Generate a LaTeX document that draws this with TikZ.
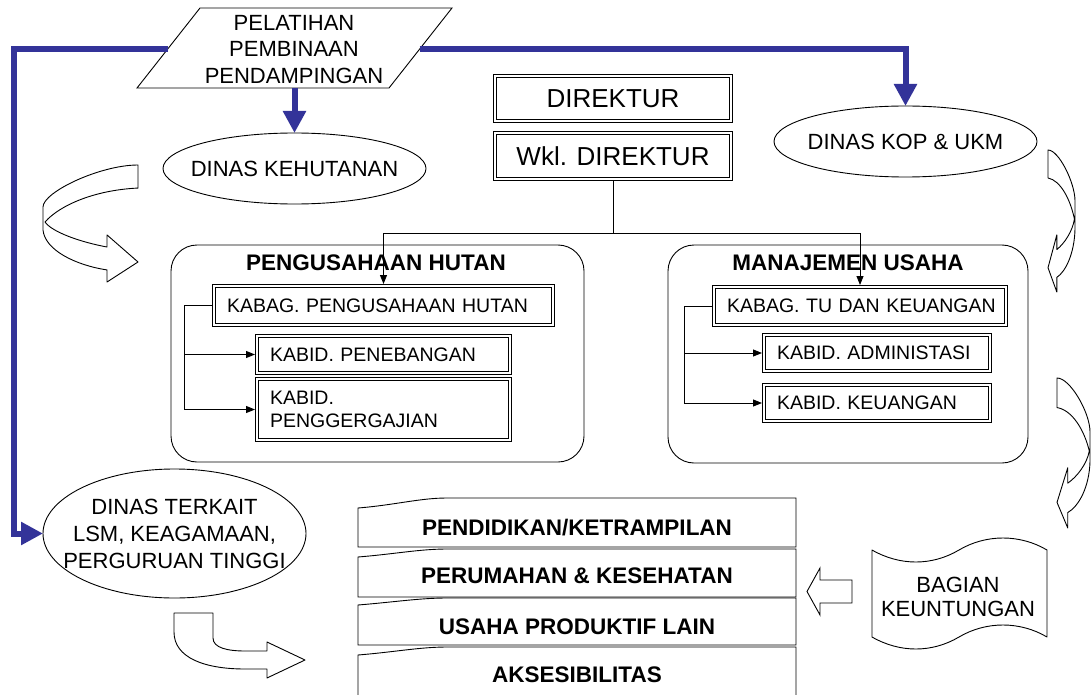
\documentclass[tikz,border=0pt]{standalone}
\usepackage{fontspec}
\setmainfont{Liberation Sans}
\usetikzlibrary{arrows.meta,shapes.geometric}

\definecolor{flowblue}{RGB}{51,51,153}

\newcommand\txtbody{\fontsize{22pt}{26.5pt}\selectfont}
\newcommand\txtoval{\fontsize{22pt}{27pt}\selectfont}
\newcommand\txtsub{\fontsize{19.5pt}{23pt}\selectfont}
\newcommand\txtdir{\fontsize{26pt}{30pt}\selectfont}
\newcommand\txthead{\fontsize{22.5pt}{27pt}\selectfont\bfseries}
\newcommand\txttape{\fontsize{22pt}{24pt}\selectfont}

% a ribbon arrow that curls round and ends in a head, in unit coordinates
\newcommand\drawcurl{%
  \draw[outline] (0,0) .. controls (0.4,0) and (1,0.231) .. (1,0.359)
    -- (1,0.556) .. controls (0.979,0.726) and (0.663,0.855) .. (0.326,0.897)
    -- (0.326,1) -- (0,0.829) -- (0.326,0.598) -- (0.326,0.701)
    .. controls (0.61,0.658) and (0.905,0.573) .. (0.979,0.487)
    .. controls (0.821,0.342) and (0.453,0.214) .. (0,0.197) -- cycle;}

\begin{document}
\begin{tikzpicture}[x=1pt,y=-1pt,
  every node/.style={inner sep=0pt,outer sep=0pt,align=center},
  oval/.style={ellipse,draw,line width=0.9pt,fill=white,
    minimum width=263pt,minimum height=71pt},
  dbox/.style={draw,double,line width=0.8pt,double distance=2.4pt,
    fill=white,outer sep=2pt},
  subbox/.style={dbox,font=\txtsub,align=left,inner xsep=13pt},
  unitbox/.style={draw,line width=0.9pt,rounded corners=26pt},
  link/.style={line width=0.9pt},
  linkarrow/.style={link,-{Triangle[length=9pt,width=7pt]}},
  bluelink/.style={draw=flowblue,line width=6pt},
  bluearrow/.style={bluelink,-{Triangle[length=22pt,width=22pt]}},
  outline/.style={draw,line width=0.9pt,fill=white,line join=round},
  rowtext/.style={font=\txthead},
]
\fill[white] (0,0) rectangle (1091,695);
\useasboundingbox (0,0) rectangle (1091,695);

% ---------- training input and the blue flow lines ----------
\draw[outline,line join=miter] (200,8) -- (452,8) -- (389,88) -- (137,88) -- cycle;
\node[font=\txtbody] (latih) at (294,49.5) {PELATIHAN\\PEMBINAAN\\PENDAMPINGAN};
\coordinate (parL) at (167.7,49);
\coordinate (parR) at (419.7,49);
\coordinate (parB) at (294.5,88);

\node[oval] (hut) at (294.5,168.5) {};
\node[font=\txtbody] (hutT) at (hut) {DINAS KEHUTANAN};
\node[oval] (kop) at (905.5,141.5) {};
\node[font=\txtbody] (kopT) at (kop) {DINAS KOP \& UKM};
\node[oval,minimum height=129pt] (terkait) at (174.5,533.5) {};
\node[font=\txtoval] (terkaitT) at (174.5,534) {DINAS TERKAIT\\LSM, KEAGAMAAN,\\PERGURUAN TINGGI};

\coordinate (blueL) at (14,49);
\coordinate (blueR) at (905.5,49);
\draw[bluearrow] (parL) -- (blueL) |- (terkait.west);
\draw[bluearrow] (parR) -- (blueR) -- (kop.north);
\draw[bluearrow] (parB) -- (hut.north);

% ---------- directors ----------
\node[dbox,minimum width=236pt,minimum height=45pt,font=\txtdir] (dir) at (613,98.5) {DIREKTUR};
\node[dbox,minimum width=236pt,minimum height=46pt,font=\txtdir] (wkl) at (613,156) {Wkl. DIREKTUR};

% ---------- business units ----------
\node[unitbox,minimum width=413pt,minimum height=217pt] (uph) at (377.5,353.5) {};
\node[font=\txthead] (uphT) at (376,263) {PENGUSAHAAN HUTAN};
\node[unitbox,minimum width=360pt,minimum height=218pt] (umu) at (848,354) {};
\node[font=\txthead] (umuT) at (848,263) {MANAJEMEN USAHA};

\node[subbox,minimum width=339pt,text width=313pt,minimum height=39pt] (kabag1) at (383.5,305.5)
  {\mbox{KABAG. PENGUSAHAAN HUTAN}};
\node[subbox,minimum width=253pt,text width=227pt,minimum height=37pt] (kb1a) at (383.5,354.5)
  {\mbox{KABID. PENEBANGAN}};
\node[subbox,minimum width=253pt,text width=227pt,minimum height=61pt] (kb1b) at (383.5,409.5)
  {KABID.\\PENGGERGAJIAN};

\node[subbox,minimum width=292pt,text width=266pt,minimum height=38pt] (kabag2) at (860,306)
  {\mbox{KABAG. TU DAN KEUANGAN}};
\node[subbox,minimum width=226pt,text width=200pt,minimum height=36pt] (kb2a) at (877,353)
  {\mbox{KABID. ADMINISTASI}};
\node[subbox,minimum width=226pt,text width=200pt,minimum height=36pt] (kb2b) at (877,403)
  {\mbox{KABID. KEUANGAN}};

\coordinate (hub) at (613,233);
\draw[link] (wkl.south) -- (hub);
\draw[linkarrow] (hub) -| (kabag1.north);
\draw[linkarrow] (hub) -| (kabag2.north);

\draw[link] (kabag1.west) -- ++(-28,0) coordinate (br1);
\draw[linkarrow] (br1) |- (kb1a.west);
\draw[linkarrow] (br1) |- (kb1b.west);
\draw[link] (kabag2.west) -- ++(-28,0) coordinate (br2);
\draw[linkarrow] (br2) |- (kb2a.west);
\draw[linkarrow] (br2) |- (kb2b.west);

% ---------- curved ribbon arrows ----------
\begin{scope}[shift={(138,165)},xscale=-95,yscale=117]
  \drawcurl
\end{scope}
\begin{scope}[shift={(1048,150)},xscale=27,yscale=142]
  \drawcurl
\end{scope}
\begin{scope}[shift={(1057,378)},xscale=33,yscale=150]
  \drawcurl
\end{scope}

% bent arrow towards the programme stack
\draw[outline] (174,613) -- (213,613) -- (213,638)
  .. controls (213,648) and (228,651) .. (245,651) -- (267,651) -- (267,642)
  -- (305,660) -- (267,678) -- (267,669) -- (245,669)
  .. controls (205,669) and (174,658) .. (174,632) -- cycle;

% ---------- programme stack ----------
\foreach \tr/\tl/\bt in {498/508/547, 549/557/597, 598/605/645, 647/655/698}{
  \draw[outline,line join=miter] (358,\bt) -- (358,\tl)
    .. controls (395,\tl-3) and (420,\tr) .. (447,\tr) -- (796,\tr) -- (796,\bt) -- cycle;
}
\node[rowtext] (prog1) at (577,528) {PENDIDIKAN/KETRAMPILAN};
\node[rowtext] (prog2) at (577,576) {PERUMAHAN \& KESEHATAN};
\node[rowtext] (prog3) at (577,627) {USAHA PRODUKTIF LAIN};
\node[rowtext] (prog4) at (577,675) {AKSESIBILITAS};

% ---------- profit share ----------
\draw[outline] (872,550) .. controls (900,566) and (932,566) .. (959,550)
  .. controls (986,534) and (1020,534) .. (1047,550) -- (1047,637)
  .. controls (1020,621) and (986,621) .. (959,637)
  .. controls (932,653) and (900,653) .. (872,637) -- cycle;
\node[font=\txttape] (profit) at (958,597) {BAGIAN\\KEUNTUNGAN};

\draw[outline,line join=miter] (852,580) -- (820,580) -- (820,568) -- (807,591.5)
  -- (820,615) -- (820,603) -- (852,603) -- cycle;
\end{tikzpicture}
\end{document}
